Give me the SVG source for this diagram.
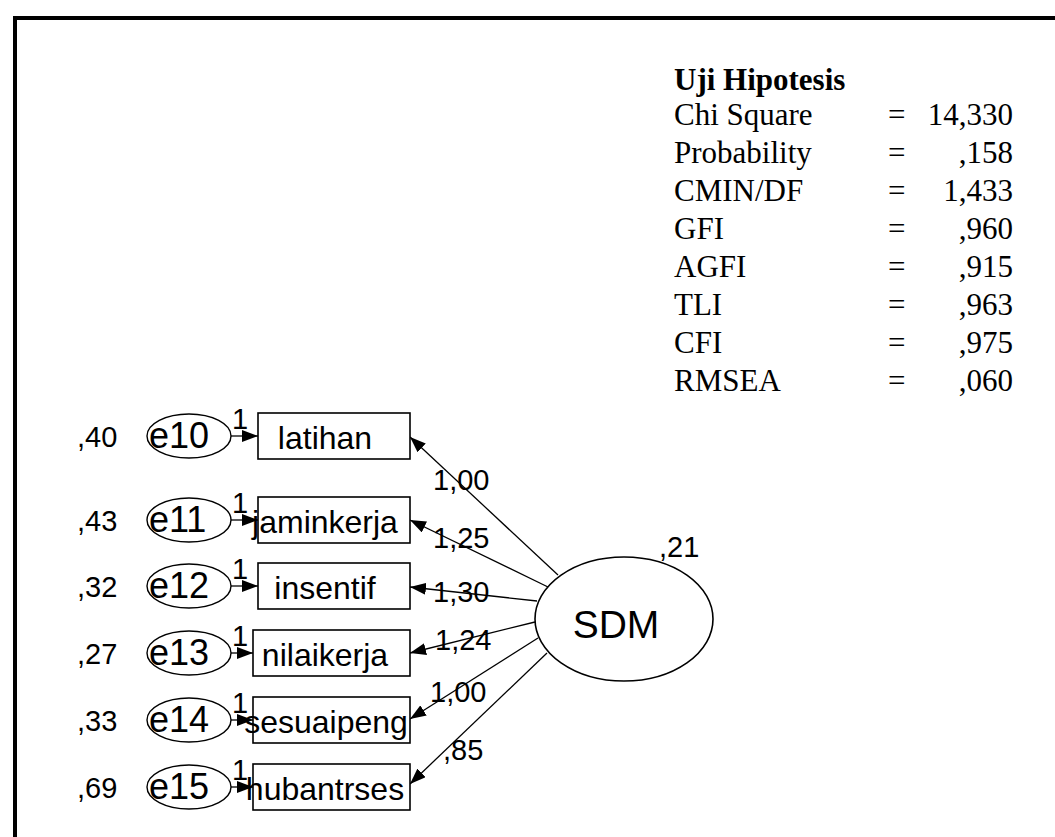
<svg xmlns="http://www.w3.org/2000/svg" width="1055" height="837" viewBox="0 0 1055 837">
  <style>
    .bg { fill: #ffffff; }
    .frame { stroke: #000; stroke-width: 4; fill: none; }
    .box { fill: #fff; stroke: #000; stroke-width: 1.6; }
    .err { fill: #fff; stroke: #000; stroke-width: 1.4; }
    .lat { fill: #fff; stroke: #000; stroke-width: 1.6; }
    .edge { stroke: #000; stroke-width: 1.3; fill: none; marker-end: url(#arrow); }
    .sans { font-family: "Liberation Sans", Arial, sans-serif; fill: #000; }
    .serif { font-family: "Liberation Serif", "Times New Roman", serif; fill: #000; font-size: 31px; }
    .lbl { font-size: 32px; text-anchor: middle; }
    .elbl { font-size: 36px; }
    .num { font-size: 29px; }
    .big { font-size: 39px; text-anchor: middle; }
    .val { text-anchor: end; }
  </style>
  <defs>
    <marker id="arrow" viewBox="0 0 16 12" refX="16" refY="6" markerWidth="16" markerHeight="12" markerUnits="userSpaceOnUse" orient="auto">
      <path d="M0,0 L16,6 L0,12 Z" fill="#000"/>
    </marker>
  </defs>

  <rect class="bg" x="0" y="0" width="1055" height="837"/>

  <!-- outer frame: left and top border only -->
  <path class="frame" d="M15,837 V18 H1055"/>

  <!-- fit statistics table -->
  <g id="fit-table" class="serif">
    <text x="674" y="90" font-weight="bold">Uji Hipotesis</text>
    <text x="674" y="125">Chi Square</text><text x="888" y="125">=</text><text class="val" x="1013" y="125">14,330</text>
    <text x="674" y="163">Probability</text><text x="888" y="163">=</text><text class="val" x="1013" y="163">,158</text>
    <text x="674" y="201">CMIN/DF</text><text x="888" y="201">=</text><text class="val" x="1013" y="201">1,433</text>
    <text x="674" y="239">GFI</text><text x="888" y="239">=</text><text class="val" x="1013" y="239">,960</text>
    <text x="674" y="277">AGFI</text><text x="888" y="277">=</text><text class="val" x="1013" y="277">,915</text>
    <text x="674" y="315">TLI</text><text x="888" y="315">=</text><text class="val" x="1013" y="315">,963</text>
    <text x="674" y="353">CFI</text><text x="888" y="353">=</text><text class="val" x="1013" y="353">,975</text>
    <text x="674" y="391">RMSEA</text><text x="888" y="391">=</text><text class="val" x="1013" y="391">,060</text>
  </g>

  <!-- connectors -->
  <g id="connectors">
    <!-- error terms to indicators -->
    <line class="edge" x1="231" y1="436" x2="258" y2="436"/>
    <line class="edge" x1="231" y1="520" x2="258" y2="520"/>
    <line class="edge" x1="231" y1="586" x2="258" y2="586"/>
    <line class="edge" x1="231" y1="653" x2="253" y2="653"/>
    <line class="edge" x1="231" y1="720" x2="253" y2="720"/>
    <line class="edge" x1="231" y1="787" x2="253" y2="787"/>
    <!-- latent factor to indicators -->
    <line class="edge" x1="558" y1="575" x2="410" y2="437"/>
    <line class="edge" x1="548" y1="587" x2="410" y2="520"/>
    <line class="edge" x1="537" y1="601" x2="410" y2="587"/>
    <line class="edge" x1="535" y1="622" x2="410" y2="653"/>
    <line class="edge" x1="538" y1="638" x2="410" y2="719"/>
    <line class="edge" x1="547" y1="653" x2="410" y2="784"/>
    <!-- weights -->
    <g class="sans num">
      <text x="232" y="429">1</text>
      <text x="232" y="513">1</text>
      <text x="232" y="579">1</text>
      <text x="232" y="646">1</text>
      <text x="232" y="713">1</text>
      <text x="232" y="780">1</text>
      <text x="433" y="490">1,00</text>
      <text x="433" y="548">1,25</text>
      <text x="433" y="602">1,30</text>
      <text x="435" y="650">1,24</text>
      <text x="430" y="702">1,00</text>
      <text x="443" y="760">,85</text>
    </g>
  </g>

  <!-- error terms -->
  <g id="e10"><text class="sans num" x="77" y="447">,40</text><ellipse class="err" cx="189" cy="436" rx="42" ry="22"/><text class="sans elbl" x="149" y="448">e10</text></g>
  <g id="e11"><text class="sans num" x="77" y="531">,43</text><ellipse class="err" cx="189" cy="520" rx="42" ry="22"/><text class="sans elbl" x="149" y="532">e11</text></g>
  <g id="e12"><text class="sans num" x="77" y="597">,32</text><ellipse class="err" cx="189" cy="586" rx="42" ry="22"/><text class="sans elbl" x="149" y="598">e12</text></g>
  <g id="e13"><text class="sans num" x="77" y="664">,27</text><ellipse class="err" cx="189" cy="653" rx="42" ry="22"/><text class="sans elbl" x="149" y="665">e13</text></g>
  <g id="e14"><text class="sans num" x="77" y="731">,33</text><ellipse class="err" cx="189" cy="720" rx="42" ry="22"/><text class="sans elbl" x="149" y="732">e14</text></g>
  <g id="e15"><text class="sans num" x="77" y="798">,69</text><ellipse class="err" cx="189" cy="787" rx="42" ry="22"/><text class="sans elbl" x="149" y="799">e15</text></g>

  <!-- observed indicators -->
  <g id="latihan"><rect class="box" x="258" y="413" width="152" height="46"/><text class="sans lbl" x="325" y="449">latihan</text></g>
  <g id="jaminkerja"><rect class="box" x="258" y="497" width="152" height="46"/><text class="sans lbl" x="325" y="533">jaminkerja</text></g>
  <g id="insentif"><rect class="box" x="258" y="563" width="152" height="46"/><text class="sans lbl" x="325" y="599">insentif</text></g>
  <g id="nilaikerja"><rect class="box" x="253" y="630" width="157" height="46"/><text class="sans lbl" x="325" y="666">nilaikerja</text></g>
  <g id="sesuaipeng"><rect class="box" x="253" y="697" width="157" height="46"/><text class="sans lbl" x="326" y="733">sesuaipeng</text></g>
  <g id="hubantrses"><rect class="box" x="253" y="764" width="157" height="46"/><text class="sans lbl" x="325" y="800">hubantrses</text></g>

  <!-- latent construct -->
  <g id="SDM">
    <ellipse class="lat" cx="624" cy="619" rx="89" ry="62"/>
    <text class="sans big" x="616" y="638">SDM</text>
    <text class="sans num" x="659" y="557">,21</text>
  </g>
</svg>
